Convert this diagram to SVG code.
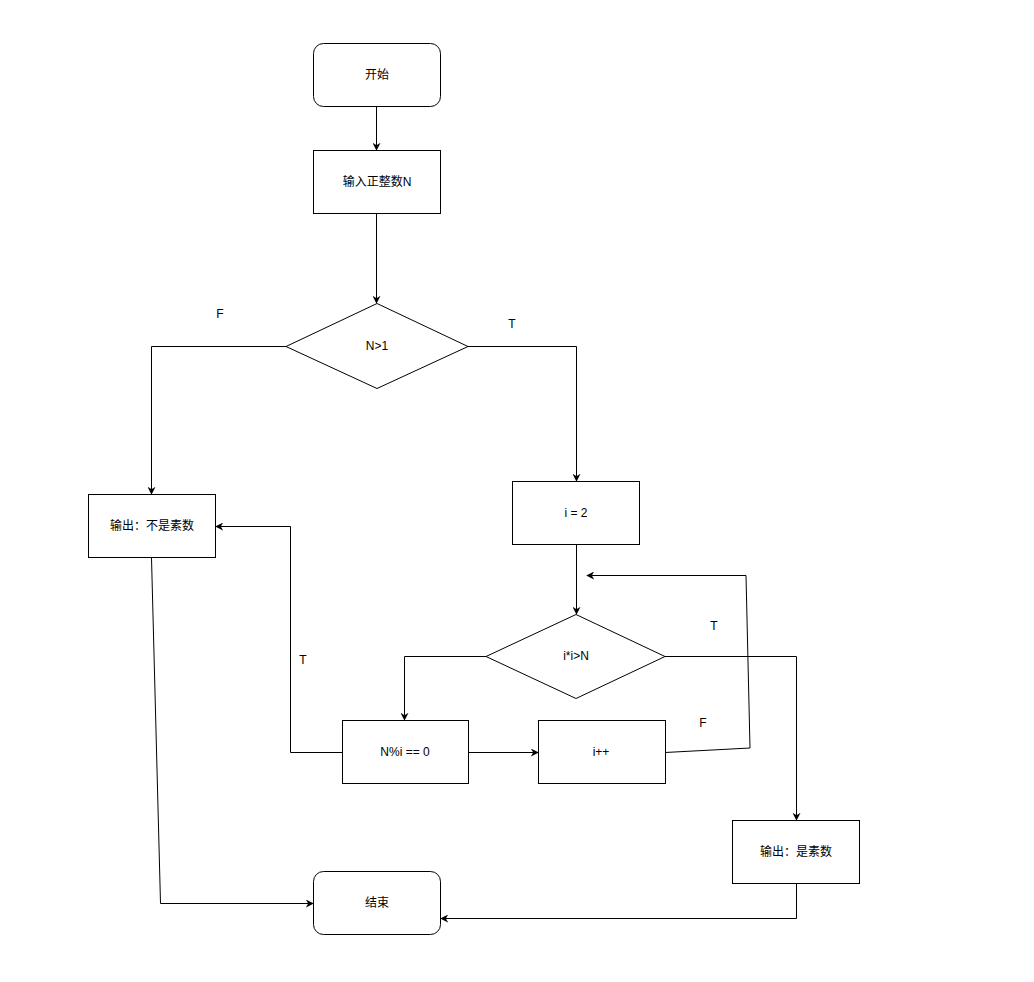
<svg xmlns="http://www.w3.org/2000/svg" width="1034" height="982" viewBox="0 0 1034 982">
<style>
.n{fill:#fff;stroke:#000;stroke-width:1}
.c{fill:none;stroke:#000;stroke-width:1}
text{font-family:"Liberation Sans","Noto Sans CJK SC",Arial,sans-serif;font-size:12px;fill:#000}
.m{text-anchor:middle;dominant-baseline:central}
</style>
<defs>
<marker id="a" viewBox="0 0 10 10" refX="9" refY="5" markerWidth="8" markerHeight="8" markerUnits="userSpaceOnUse" orient="auto">
<path d="M0,0 L10,5 L0,10 L3,5 Z" fill="#000"/>
</marker>
</defs>
<rect width="1034" height="982" fill="#fff"/>
<g id="connectors">
<path class="c" d="M376.5,106 V150" marker-end="url(#a)"/>
<path class="c" d="M376.5,213 V303" marker-end="url(#a)"/>
<path class="c" d="M286,346.5 H151.5 V494" marker-end="url(#a)"/>
<path class="c" d="M468,346.5 H576.5 V481" marker-end="url(#a)"/>
<path class="c" d="M576.5,544 V614" marker-end="url(#a)"/>
<path class="c" d="M486,656.5 H404.5 V720" marker-end="url(#a)"/>
<path class="c" d="M468,752.5 H538" marker-end="url(#a)"/>
<path class="c" d="M665,752.5 L750,748 L746,575.5 H587" marker-end="url(#a)"/>
<path class="c" d="M665,656.5 H796.5 V820" marker-end="url(#a)"/>
<path class="c" d="M796.5,883 V918.5 H441" marker-end="url(#a)"/>
<path class="c" d="M151.5,558 L160.5,903.5 H313" marker-end="url(#a)"/>
<path class="c" d="M342,752.5 H290.5 V526.5 H216" marker-end="url(#a)"/>
</g>
<g id="labels">
<text x="220" y="314" class="m">F</text>
<text x="512" y="324" class="m">T</text>
<text x="714" y="626" class="m">T</text>
<text x="703" y="723" class="m">F</text>
<text x="303" y="660" class="m">T</text>
</g>
<g id="start"><rect class="n" x="313.5" y="43.5" width="127" height="63" rx="10"/><text x="377" y="75" class="m">开始</text></g>
<g id="input"><rect class="n" x="313.5" y="150.5" width="127" height="63"/><text x="377" y="182" class="m">输入正整数N</text></g>
<g id="cond1"><path class="n" d="M377,303.5 L468,346.5 L377,388.5 L286,346.5 Z"/><text x="377" y="346" class="m">N&gt;1</text></g>
<g id="notprime"><rect class="n" x="88.5" y="494.5" width="127" height="63"/><text x="152" y="526" class="m">输出：不是素数</text></g>
<g id="init"><rect class="n" x="512.5" y="481.5" width="127" height="63"/><text x="576" y="513" class="m">i = 2</text></g>
<g id="cond2"><path class="n" d="M576,614.5 L665,656.5 L576,698.5 L486,656.5 Z"/><text x="576" y="656" class="m">i*i&gt;N</text></g>
<g id="mod"><rect class="n" x="342.5" y="720.5" width="126" height="63"/><text x="405" y="752" class="m">N%i == 0</text></g>
<g id="inc"><rect class="n" x="538.5" y="720.5" width="127" height="63"/><text x="601" y="752" class="m">i++</text></g>
<g id="prime"><rect class="n" x="732.5" y="820.5" width="127" height="63"/><text x="796" y="852" class="m">输出：是素数</text></g>
<g id="end"><rect class="n" x="313.5" y="871.5" width="127" height="63" rx="10"/><text x="377" y="903" class="m">结束</text></g>
</svg>
